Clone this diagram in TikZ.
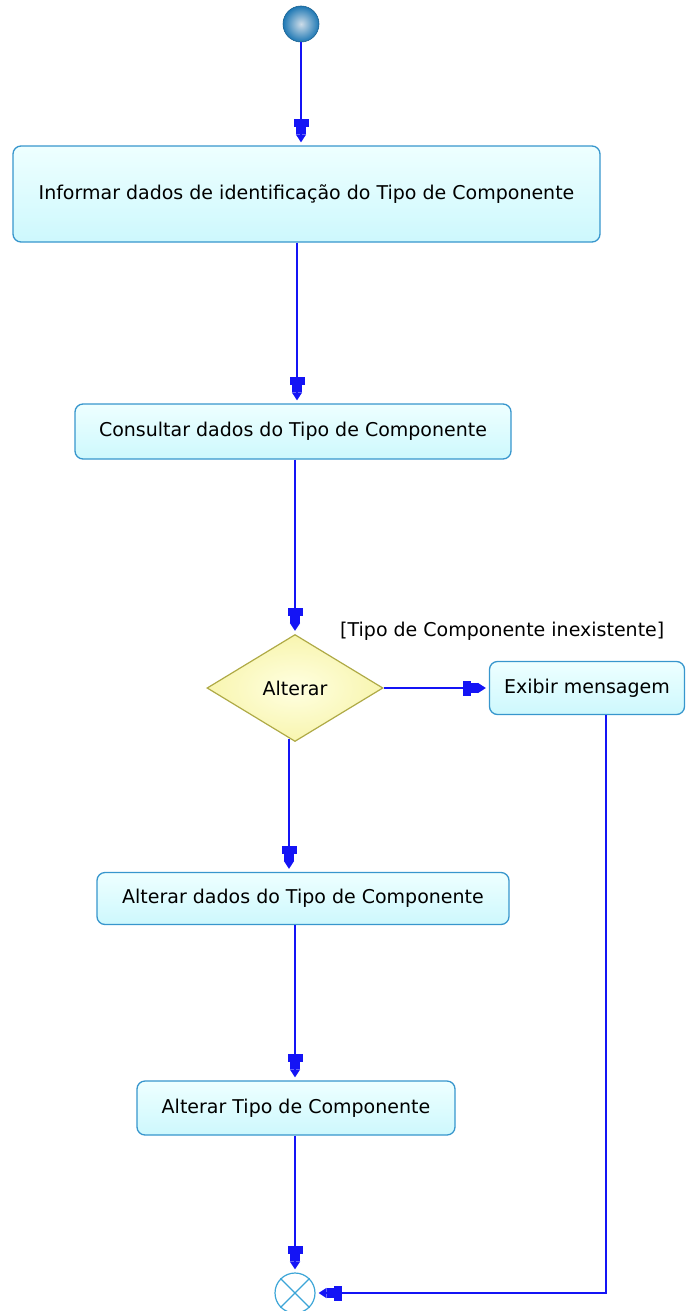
\documentclass[tikz,border=0pt]{standalone}
\usepackage{fontspec}
\setmainfont{DejaVu Sans}
\usetikzlibrary{arrows.meta,shapes.geometric}
\definecolor{flowblue}{RGB}{20,20,245}
\definecolor{boxline}{RGB}{55,150,205}
\definecolor{boxtop}{RGB}{238,255,255}
\definecolor{boxbot}{RGB}{205,248,253}
\definecolor{dialine}{RGB}{175,170,70}
\definecolor{diain}{RGB}{255,255,225}
\definecolor{diaout}{RGB}{248,245,175}
\definecolor{startin}{RGB}{205,220,232}
\definecolor{startout}{RGB}{30,120,180}
\definecolor{endline}{RGB}{60,165,215}
\tikzset{
  actbox/.style={draw=boxline, line width=1.3pt, rounded corners=8pt,
    top color=boxtop, bottom color=boxbot, inner sep=0pt, align=center,
    font=\fontsize{19}{22}\selectfont},
  flow/.style={draw=flowblue, line width=1.6pt,
    -{Rectangle[length=8pt,width=15pt,sep=0pt]Rectangle[length=7pt,width=10pt,sep=0pt]Triangle[length=8pt,width=10pt]},
    shorten >=3pt},
  lab/.style={font=\fontsize{19}{22}\selectfont, inner sep=0pt}
}
\begin{document}
\begin{tikzpicture}[x=1pt,y=-1pt]
\useasboundingbox (0,0) rectangle (685,1311);
% start
\node[circle, minimum size=36pt, inner sep=0pt, inner color=startin, outer color=startout, draw=startout!80!black, line width=0.6pt] (start) at (301,24) {};
% activities
\node[actbox, minimum width=587pt, minimum height=96pt] (b1) at (306.5,194) {Informar dados de identificação do Tipo de Componente};
\node[actbox, minimum width=436pt, minimum height=55pt] (b2) at (293,431.5) {Consultar dados do Tipo de Componente};
\node[diamond, draw=dialine, line width=1.2pt, inner color=diain, outer color=diaout, minimum width=176pt, minimum height=107pt, inner sep=0pt, font=\fontsize{19}{22}\selectfont] (d) at (295,688) {Alterar};
\node[actbox, minimum width=195pt, minimum height=53pt] (ex) at (587,688) {Exibir mensagem};
\node[actbox, minimum width=412pt, minimum height=52pt] (b3) at (303,898.5) {Alterar dados do Tipo de Componente};
\node[actbox, minimum width=318pt, minimum height=54pt] (b4) at (296,1108) {Alterar Tipo de Componente};
% final
\node[circle, draw=endline, line width=1.2pt, fill=white, minimum size=40pt, inner sep=0pt] (fin) at (295,1293) {};
\draw[endline, line width=1.2pt] (fin.north east) -- (fin.south west) (fin.north west) -- (fin.south east);
% guard label
\node[lab, anchor=west] (g) at (340,631) {[Tipo de Componente inexistente]};
% connectors
\draw[flow] (start.south) -- (start |- b1.north);
\draw[flow] ([xshift=-9.5pt]b1.south) -- ([xshift=-9.5pt]b1.south |- b2.north);
\draw[flow] ([xshift=2pt]b2.south) -- (d.north);
\coordinate (dbot) at ([xshift=-6pt]d.south);
\draw[flow] ([yshift=3pt]d.south -| dbot) -- (dbot |- b3.north);
\draw[flow] (d.east) -- (d.east -| ex.west);
\draw[flow] ([xshift=-8pt]b3.south) -- ([xshift=-8pt]b3.south |- b4.north);
\draw[flow] ([xshift=-1pt]b4.south) -- (fin.north);
\coordinate (exl) at (606,0);
\draw[flow] (ex.south -| exl) |- (fin.east);
\end{tikzpicture}
\end{document}
